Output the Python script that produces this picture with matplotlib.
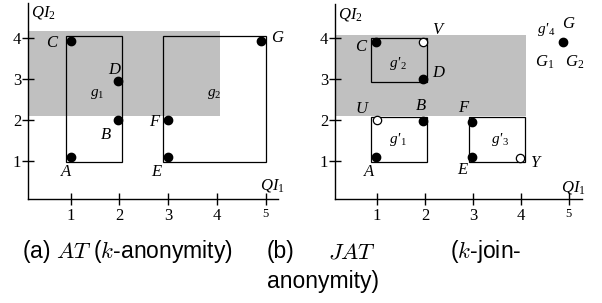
import matplotlib
matplotlib.use("Agg")
import matplotlib.pyplot as plt
from matplotlib.patches import Rectangle

plt.rcParams['mathtext.fontset'] = 'custom'
plt.rcParams['mathtext.it'] = 'Liberation Serif:italic'
plt.rcParams['mathtext.rm'] = 'Liberation Serif'
plt.rcParams['mathtext.bf'] = 'Liberation Serif:bold'

W, H = 602, 303

# ---------------- data ----------------
ticks = [1, 2, 3, 4, 5]
yticks = [1, 2, 3, 4]

# panel (a)
a_shade = (4.06, 2.09, 4.18)           # x right, y bottom, y top
a_rects = [(0.90, 0.96, 2.05, 4.05), (2.89, 0.96, 5.00, 4.05)]
a_names = ['A', 'B', 'C', 'D', 'E', 'F', 'G']
a_x = [1.00, 1.96, 1.00, 1.96, 3.00, 3.00, 4.90]
a_y = [1.08, 1.99, 3.93, 2.95, 1.08, 1.99, 3.93]

# panel (b)
b_shade = (4.11, 2.09, 4.08)
b_rects = [(0.875, 2.93, 2.05, 4.01), (0.875, 0.956, 2.05, 2.07), (2.91, 0.956, 4.08, 2.07)]
b_names = ['A', 'B', 'C', 'D', 'E', 'F', 'G']
b_x = [0.985, 1.96, 0.985, 1.96, 2.98, 2.98, 4.88]
b_y = [1.08, 1.98, 3.91, 3.01, 1.09, 1.94, 3.90]
b_open_names = ['U', 'V', 'Y']
b_open_x = [1.00, 1.96, 3.99]
b_open_y = [1.99, 3.91, 1.07]

fig = plt.figure(figsize=(W / 100, H / 100), dpi=100)


def px(x, y):
    return x / W, 1 - y / H


def make_axes(left_px, right_px, top_px, bottom_px, xlim, ylim):
    ax = fig.add_axes([left_px / W, 1 - bottom_px / H, (right_px - left_px) / W, (bottom_px - top_px) / H])
    ax.set_xlim(*xlim)
    ax.set_ylim(*ylim)
    ax.patch.set_alpha(0)
    for s in ('top', 'right'):
        ax.spines[s].set_visible(False)
    for s in ('left', 'bottom'):
        ax.spines[s].set_linewidth(1.0)
    ax.set_xticks(ticks)
    ax.set_yticks(yticks)
    ax.set_xticklabels([str(t) for t in ticks], family='Liberation Serif', fontsize=12)
    ax.get_xticklabels()[-1].set_fontsize(9)
    ax.set_yticklabels([str(t) for t in yticks], family='Liberation Serif', fontsize=12)
    ax.tick_params(axis='x', direction='inout', length=9, width=1.0, pad=2)
    ax.tick_params(axis='y', direction='inout', length=8, width=1.0, pad=1)
    return ax


def draw(ax, shade, rects, xs, ys):
    x0 = ax.get_xlim()[0]
    ax.add_patch(Rectangle((x0, shade[1]), shade[0] - x0, shade[2] - shade[1],
                           facecolor='#c0c0c0', edgecolor='none', zorder=0))
    for (rx0, ry0, rx1, ry1) in rects:
        ax.add_patch(Rectangle((rx0, ry0), rx1 - rx0, ry1 - ry0, facecolor='none',
                               edgecolor='black', linewidth=0.9, zorder=2))
    ax.plot(xs, ys, 'o', color='black', markersize=6, zorder=3, clip_on=False)


axa = make_axes(28, 278, 3, 199, (0.125, 5.25), (0.0555, 4.864))
draw(axa, a_shade, a_rects, a_x, a_y)

axb = make_axes(335, 581.7, 4, 199, (0.123, 5.27), (0.0555, 4.84))
draw(axb, b_shade, b_rects, b_x, b_y)
axb.plot(b_open_x, b_open_y, 'o', markerfacecolor='white', markeredgecolor='black',
         markeredgewidth=0.9, markersize=6, zorder=3, clip_on=False)

lab = dict(family='Liberation Serif', style='italic', fontsize=12, ha='center', va='center')
glab = dict(family='Liberation Serif', style='italic', fontsize=11, ha='center', va='center')

# labels panel (a)
a_lab_pos = {'A': (65.7, 172), 'C': (51.7, 42.7), 'D': (114, 70), 'B': (106, 135),
             'E': (156, 172), 'F': (154.3, 122), 'G': (277, 37.7)}
for n in a_names:
    fig.text(*px(*a_lab_pos[n]), n, **lab)
fig.text(*px(96.7, 93.3), r'$g_\mathrm{1}$', fontsize=11, ha='center', va='center')
fig.text(*px(214, 93.3), r'$g_\mathrm{2}$', fontsize=11, ha='center', va='center')
fig.text(*px(43, 12), r'$QI_\mathrm{2}$', fontsize=12, ha='center', va='center')
fig.text(*px(272, 185), r'$QI_1$', fontsize=12, ha='center', va='center')

# labels panel (b)
b_lab_pos = {'A': (369.3, 171.7), 'B': (420.7, 106), 'C': (361, 46.7), 'D': (438.3, 73.3),
             'E': (462.3, 170), 'F': (463.3, 108.3), 'G': (568.3, 24)}
for n in b_names:
    fig.text(*px(*b_lab_pos[n]), n, **lab)
b_open_lab = {'U': (361.7, 109.3), 'V': (436.7, 30), 'Y': (535, 163.3)}
for n in b_open_names:
    fig.text(*px(*b_open_lab[n]), n, **lab)
fig.text(*px(545, 61.7), r'$G_1$', fontsize=12, ha='center', va='center')
fig.text(*px(575, 61.7), r'$G_2$', fontsize=12, ha='center', va='center')
fig.text(*px(545.7, 29), r"g'$_4$", **glab)
fig.text(*px(398.3, 64), r"g'$_2$", **glab)
fig.text(*px(398.3, 140), r"g'$_1$", **glab)
fig.text(*px(500, 140), r"g'$_3$", **glab)
fig.text(*px(350, 14), r'$QI_\mathrm{2}$', fontsize=12, ha='center', va='center')
fig.text(*px(573.3, 186.7), r'$QI_1$', fontsize=12, ha='center', va='center')

# captions
cap = dict(family='Liberation Sans', fontsize=16.5, va='center', math_fontfamily='cm')
fig.text(*px(21.7, 251.7), r'(a) $AT$ ($k$-anonymity)', ha='left', **cap)
fig.text(*px(266.7, 251.7), '(b)', ha='left', **cap)
fig.text(*px(352, 251.7), r'$JAT$', ha='center', **cap)
fig.text(*px(521, 251.7), r'($k$-join-', ha='right', **cap)
fig.text(*px(266.7, 281.7), 'anonymity)', ha='left', **cap)

fig.savefig('out.png', dpi=100)
